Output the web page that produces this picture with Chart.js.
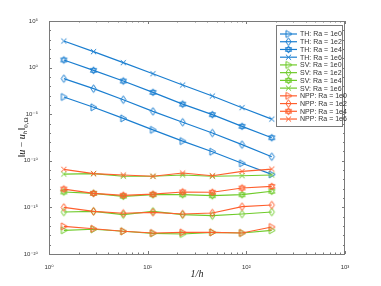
<!DOCTYPE html>
<html>
<head>
<meta charset="utf-8">
<script src="https://cdn.jsdelivr.net/npm/chart.js@4.4.0/dist/chart.umd.min.js"></script>
<style>
  html, body { margin: 0; padding: 0; background: #fff; }
</style>
</head>
<body>
<canvas id="chart" width="381" height="286"></canvas>
<script>
// 1/h for each refinement level
const invH = [1.414, 2.828, 5.657, 11.31, 22.63, 45.25, 90.51, 181.0];

// ||u - u_h||
const thRa0 = [7.1e-4, 5.5e-5, 3.6e-6, 2.1e-7, 1.3e-8, 9.5e-10, 5.4e-11, 3.5e-12];
const thRa2 = [6.5e-2, 5.5e-3, 3.6e-4, 2.0e-5, 1.35e-6, 9.5e-8, 5.4e-9, 2.75e-10];
const thRa4 = [6.6, 0.51, 3.6e-2, 2.2e-3, 1.2e-4, 8.9e-6, 5.0e-7, 3.0e-8];
const thRa6 = [710, 51, 3.4, 0.22, 1.35e-2, 8.9e-4, 5.0e-5, 3.0e-6];

const svRa0 = [3.5e-18, 4.5e-18, 2.75e-18, 1.66e-18, 1.4e-18, 2.1e-18, 1.8e-18, 3.5e-18];
const svRa2 = [3.2e-16, 3.8e-16, 1.66e-16, 3.8e-16, 1.66e-16, 1.3e-16, 1.95e-16, 3.2e-16];
const svRa4 = [4.5e-14, 3.2e-14, 1.55e-14, 2.3e-14, 2.3e-14, 1.8e-14, 2.3e-14, 5.4e-14];
const svRa6 = [3.8e-12, 4.2e-12, 2.2e-12, 2.2e-12, 3.0e-12, 2.2e-12, 2.5e-12, 3.0e-12];

const nppRa0 = [9.3e-18, 5.1e-18, 2.75e-18, 1.8e-18, 2.1e-18, 2.1e-18, 1.8e-18, 7.9e-18];
const nppRa2 = [1.0e-15, 3.8e-16, 2.35e-16, 2.95e-16, 1.95e-16, 2.5e-16, 1.2e-15, 1.8e-15];
const nppRa4 = [9.3e-14, 3.2e-14, 2.0e-14, 2.6e-14, 4.5e-14, 4.2e-14, 1.2e-13, 1.8e-13];
const nppRa6 = [1.23e-11, 4.2e-12, 3.0e-12, 2.2e-12, 4.9e-12, 2.5e-12, 7.4e-12, 1.3e-11];

const seriesLabels = [
  "TH: Ra = 1e0", "TH: Ra = 1e2", "TH: Ra = 1e4", "TH: Ra = 1e6",
  "SV: Ra = 1e0", "SV: Ra = 1e2", "SV: Ra = 1e4", "SV: Ra = 1e6",
  "NPP: Ra = 1e0", "NPP: Ra = 1e2", "NPP: Ra = 1e4", "NPP: Ra = 1e6",
];
const seriesValues = [thRa0, thRa2, thRa4, thRa6, svRa0, svRa2, svRa4, svRa6, nppRa0, nppRa2, nppRa4, nppRa6];

// tick positions (decade exponents)
const xTickExp = [0, 1, 2, 3];
const yTickExp = [];
for (let e = -20; e <= 5; e++) yTickExp.push(e);

const blue = "#1a7ed0";
const green = "#6fcb2a";
const orange = "#ff5f2e";
const colors = [blue, blue, blue, blue, green, green, green, green, orange, orange, orange, orange];

// marker images, MATLAB style: > d h x
function marker(kind, color) {
  const c = document.createElement("canvas");
  c.width = 11; c.height = 11;
  const g = c.getContext("2d");
  g.strokeStyle = color;
  g.lineWidth = 1;
  g.translate(5.5, 5.5);
  g.beginPath();
  if (kind === "tri") {
    g.moveTo(3.5, 0); g.lineTo(-2.5, -3.5); g.lineTo(-2.5, 3.5); g.closePath();
  } else if (kind === "dia") {
    g.moveTo(0, -3.8); g.lineTo(2.6, 0); g.lineTo(0, 3.8); g.lineTo(-2.6, 0); g.closePath();
  } else if (kind === "hex") {
    for (let t = 0; t < 2; t++) {
      for (let k = 0; k < 3; k++) {
        const a = (t * 60 + k * 120 - 90) * Math.PI / 180;
        const px = 3.6 * Math.cos(a), py = 3.6 * Math.sin(a);
        if (k === 0) g.moveTo(px, py); else g.lineTo(px, py);
      }
      g.closePath();
    }
  } else {
    g.moveTo(-2.6, -2.6); g.lineTo(2.6, 2.6);
    g.moveTo(2.6, -2.6); g.lineTo(-2.6, 2.6);
  }
  g.stroke();
  return c;
}
const kinds = ["tri", "dia", "hex", "x"];

const sup = { "0": "⁰", "1": "¹", "2": "²", "3": "³", "4": "⁴", "5": "⁵", "6": "⁶", "7": "⁷", "8": "⁸", "9": "⁹", "-": "⁻" };
function powLabel(e) {
  return "10" + String(e).split("").map(ch => sup[ch]).join("");
}

const datasets = seriesValues.map((vals, i) => ({
  label: seriesLabels[i],
  data: invH.map((x, j) => ({ x: x, y: vals[j] })),
  borderColor: colors[i],
  backgroundColor: colors[i],
  borderWidth: 1.2,
  pointStyle: marker(kinds[i % 4], colors[i]),
  pointRadius: 4,
  order: 20 - i,
}));

const axisColor = "#7a7a7a";

const framePlugin = {
  id: "frame",
  afterDatasetsDraw(chart) {
    const { ctx, chartArea: a, scales } = chart;
    ctx.save();
    ctx.strokeStyle = axisColor;
    ctx.lineWidth = 1;
    ctx.beginPath();
    ctx.rect(Math.round(a.left) + 0.5, Math.round(a.top) + 0.5,
      Math.round(a.right - a.left) - 1, Math.round(a.bottom - a.top));
    // x ticks, inside, top and bottom
    for (let e = 0; e < 3; e++) {
      for (let m = 1; m <= 10; m++) {
        const v = m * Math.pow(10, e);
        const px = Math.round(scales.x.getPixelForValue(v)) + 0.5;
        const len = (m === 1 || m === 10) ? 3 : 1.5;
        ctx.moveTo(px, a.bottom); ctx.lineTo(px, a.bottom - len);
        ctx.moveTo(px, a.top); ctx.lineTo(px, a.top + len);
      }
    }
    // y ticks, inside, left and right
    yTickExp.forEach(e => {
      const py = Math.round(scales.y.getPixelForValue(Math.pow(10, e))) + 0.5;
      const len = e % 5 === 0 ? 3 : 2;
      ctx.moveTo(a.left, py); ctx.lineTo(a.left + len, py);
      ctx.moveTo(a.right, py); ctx.lineTo(a.right - len, py);
    });
    ctx.stroke();
    ctx.restore();
  },
  afterDraw(chart) {
    const { ctx, chartArea: a } = chart;
    ctx.save();
    ctx.fillStyle = "#222";
    // x title: 1/h
    ctx.font = "italic 10px 'Liberation Serif'";
    ctx.textAlign = "center";
    ctx.textBaseline = "middle";
    ctx.fillText("1/h", (a.left + a.right) / 2, 274);

    // y title: ||u - u_h||_{0,Ω}
    ctx.translate(22, (a.top + a.bottom) / 2);
    ctx.rotate(-Math.PI / 2);
    ctx.textBaseline = "alphabetic";
    ctx.textAlign = "left";
    const parts = [
      ["‖", "10px 'Liberation Serif'", 0],
      ["u", "italic 10px 'Liberation Serif'", 0],
      [" − ", "10px 'Liberation Serif'", 0],
      ["u", "italic 10px 'Liberation Serif'", 0],
      ["h", "italic 7px 'Liberation Serif'", 2],
      ["‖", "10px 'Liberation Serif'", 0],
      ["0,Ω", "7px 'Liberation Serif'", 2.5],
    ];
    let w = 0;
    parts.forEach(p => { ctx.font = p[1]; w += ctx.measureText(p[0]).width; });
    let x = -w / 2;
    parts.forEach(p => {
      ctx.font = p[1];
      ctx.fillText(p[0], x, 3 + p[2]);
      x += ctx.measureText(p[0]).width;
    });
    ctx.restore();

    // legend box
    const lx = 276, ly = 25, lw = 66, lh = 101;
    ctx.save();
    ctx.fillStyle = "#fff";
    ctx.fillRect(lx, ly, lw, lh);
    ctx.strokeStyle = axisColor;
    ctx.lineWidth = 1;
    ctx.strokeRect(lx + 0.5, ly + 0.5, lw, lh);
    ctx.font = "7px 'Liberation Sans'";
    ctx.textBaseline = "middle";
    ctx.textAlign = "left";
    chart.data.datasets.forEach((ds, i) => {
      const y = 34 + i * 7.73;
      ctx.strokeStyle = ds.borderColor;
      ctx.lineWidth = 1.2;
      ctx.beginPath();
      ctx.moveTo(280, y); ctx.lineTo(297, y);
      ctx.stroke();
      const img = ds.pointStyle;
      ctx.drawImage(img, 288.5 - img.width / 2, y - img.height / 2);
      ctx.fillStyle = "#333";
      ctx.fillText(ds.label, 300, y + 0.5);
    });
    ctx.restore();
  },
};

const tickFont = { family: "'Liberation Sans', 'DejaVu Sans'", size: 6 };

new Chart(document.getElementById("chart"), {
  type: "line",
  data: { datasets },
  options: {
    responsive: false,
    animation: false,
    layout: { padding: { top: 21, right: 36, left: 0, bottom: 0 } },
    plugins: { legend: { display: false }, tooltip: { enabled: false } },
    scales: {
      x: {
        type: "logarithmic",
        min: 1,
        max: 1000,
        grid: { display: false },
        border: { display: false },
        afterBuildTicks: s => { s.ticks = xTickExp.map(e => ({ value: Math.pow(10, e) })); },
        afterFit: s => { s.height = 32; },
        ticks: {
          autoSkip: false,
          maxRotation: 0,
          padding: 2,
          color: "#333",
          font: tickFont,
          callback: v => powLabel(Math.round(Math.log10(v))),
        },
      },
      y: {
        type: "logarithmic",
        min: 1e-20,
        max: 1e5,
        grid: { display: false },
        border: { display: false },
        afterBuildTicks: s => { s.ticks = yTickExp.map(e => ({ value: Math.pow(10, e) })); },
        afterFit: s => { s.width = 49; },
        ticks: {
          autoSkip: false,
          padding: 3,
          color: "#333",
          font: tickFont,
          callback: v => {
            const e = Math.round(Math.log10(v));
            return e % 5 === 0 ? powLabel(e) : "";
          },
        },
      },
    },
  },
  plugins: [framePlugin],
});
</script>
</body>
</html>
